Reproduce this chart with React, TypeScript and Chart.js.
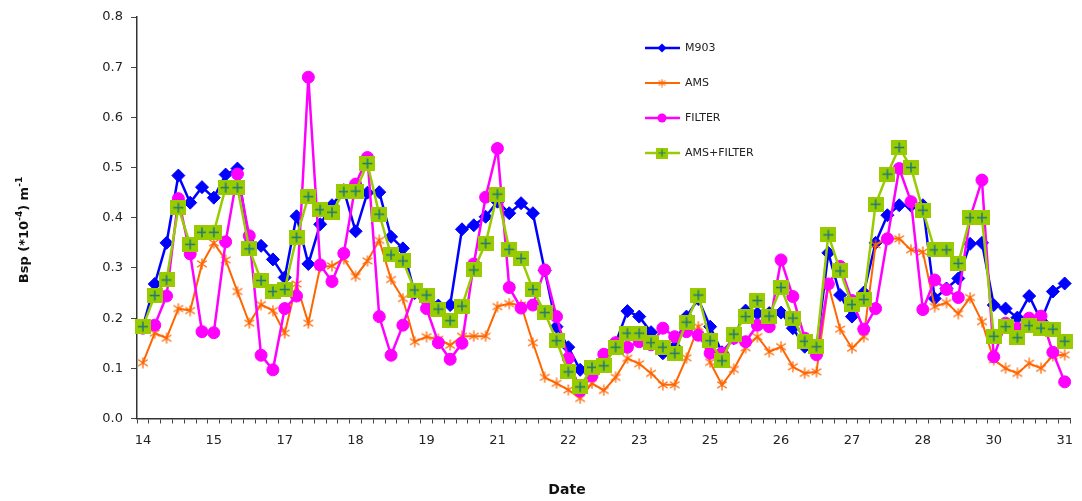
import React, { useEffect, useRef } from 'react';
import { Chart, registerables } from 'chart.js';

Chart.register(...registerables);

// Tick labels shown every 6 categories (data every 4 h)
const dayLabels = ['14', '15', '17', '18', '19', '21', '22', '23', '25', '26', '27', '28', '30', '31'];
const pointsPerLabel = 6;

const m903 = [
  0.183, 0.268, 0.350, 0.484, 0.430, 0.461, 0.440, 0.486, 0.498, 0.350,
  0.344, 0.317, 0.281, 0.403, 0.308, 0.387, 0.425, 0.455, 0.373, 0.450,
  0.451, 0.362, 0.339, 0.250, 0.245, 0.225, 0.226, 0.377, 0.385, 0.402,
  0.432, 0.409, 0.429, 0.409, 0.295, 0.183, 0.142, 0.097, 0.100, 0.105,
  0.150, 0.214, 0.203, 0.172, 0.130, 0.143, 0.203, 0.238, 0.183, 0.132,
  0.160, 0.215, 0.209, 0.210, 0.211, 0.180, 0.143, 0.140, 0.330, 0.246,
  0.203, 0.251, 0.350, 0.405, 0.425, 0.424, 0.425, 0.239, 0.259, 0.279,
  0.348, 0.350, 0.226, 0.219, 0.201, 0.244, 0.195, 0.253, 0.269,
];

const ams = [
  0.111, 0.170, 0.160, 0.219, 0.215, 0.308, 0.350, 0.316, 0.253, 0.190,
  0.227, 0.215, 0.170, 0.268, 0.190, 0.302, 0.304, 0.318, 0.283, 0.314,
  0.355, 0.277, 0.239, 0.153, 0.163, 0.158, 0.146, 0.164, 0.164, 0.164,
  0.223, 0.229, 0.226, 0.151, 0.082, 0.070, 0.057, 0.040, 0.070, 0.056,
  0.082, 0.120, 0.109, 0.090, 0.067, 0.067, 0.121, 0.183, 0.112, 0.067,
  0.098, 0.141, 0.163, 0.133, 0.143, 0.103, 0.090, 0.093, 0.266, 0.178,
  0.140, 0.163, 0.346, 0.359, 0.358, 0.336, 0.332, 0.223, 0.231, 0.209,
  0.241, 0.193, 0.117, 0.100, 0.090, 0.110, 0.100, 0.125, 0.127,
];

const filter = [
  0.180, 0.186, 0.244, 0.438, 0.328, 0.173, 0.171, 0.352, 0.487, 0.364,
  0.126, 0.097, 0.219, 0.244, 0.680, 0.306, 0.273, 0.329, 0.467, 0.520,
  0.203, 0.126, 0.186, 0.253, 0.219, 0.151, 0.118, 0.150, 0.308, 0.441,
  0.538, 0.261, 0.220, 0.226, 0.296, 0.203, 0.120, 0.055, 0.085, 0.128,
  0.151, 0.142, 0.153, 0.147, 0.180, 0.163, 0.173, 0.166, 0.130, 0.130,
  0.160, 0.153, 0.186, 0.183, 0.316, 0.243, 0.160, 0.127, 0.268, 0.303,
  0.235, 0.178, 0.219, 0.358, 0.498, 0.432, 0.217, 0.276, 0.257, 0.241,
  0.400, 0.475, 0.123, 0.190, 0.180, 0.200, 0.204, 0.132, 0.073,
];

const amsFilter = [
  0.183, 0.245, 0.276, 0.420, 0.347, 0.371, 0.371, 0.460, 0.460, 0.338,
  0.275, 0.253, 0.257, 0.361, 0.442, 0.416, 0.411, 0.452, 0.453, 0.508,
  0.407, 0.326, 0.314, 0.256, 0.246, 0.218, 0.195, 0.224, 0.296, 0.349,
  0.447, 0.337, 0.319, 0.257, 0.211, 0.155, 0.093, 0.063, 0.102, 0.105,
  0.142, 0.170, 0.170, 0.151, 0.142, 0.130, 0.192, 0.246, 0.155, 0.115,
  0.168, 0.203, 0.235, 0.204, 0.261, 0.200, 0.154, 0.143, 0.366, 0.294,
  0.227, 0.237, 0.427, 0.487, 0.540, 0.500, 0.415, 0.336, 0.336, 0.309,
  0.400, 0.400, 0.164, 0.183, 0.161, 0.185, 0.180, 0.178, 0.154,
];

const categories = m903.map((_, i) => (i % pointsPerLabel === 0 ? dayLabels[i / pointsPerLabel] : ''));

const BLUE = '#0000FF';
const ORANGE = '#FF6600';
const MAGENTA = '#FF00FF';
const GREEN = '#99CC00';
const TEAL = '#207878';

function makePlusSquare(w: number, h: number, plus: number, lw: number) {
  const c = document.createElement('canvas');
  c.width = w;
  c.height = h;
  const g = c.getContext('2d')!;
  g.fillStyle = GREEN;
  g.fillRect(0, 0, w, h);
  g.strokeStyle = TEAL;
  g.lineWidth = lw;
  g.beginPath();
  g.moveTo(w / 2, (h - plus) / 2);
  g.lineTo(w / 2, (h + plus) / 2);
  g.moveTo((w - plus) / 2, h / 2);
  g.lineTo((w + plus) / 2, h / 2);
  g.stroke();
  return c;
}

function makeAsterisk(size: number, color: string, lw: number) {
  const c = document.createElement('canvas');
  c.width = size;
  c.height = size;
  const g = c.getContext('2d')!;
  g.strokeStyle = color;
  g.lineWidth = lw;
  const m = size / 2;
  const r = size / 2 - 0.5;
  g.beginPath();
  g.moveTo(m, m - r);
  g.lineTo(m, m + r);
  const d = r * 0.87;
  g.moveTo(m - d, m - r * 0.6);
  g.lineTo(m + d, m + r * 0.6);
  g.moveTo(m - d, m + r * 0.6);
  g.lineTo(m + d, m - r * 0.6);
  g.stroke();
  return c;
}

export default function App() {
  const ref = useRef<HTMLCanvasElement>(null);

  useEffect(() => {
    const canvas = ref.current!;
    const plusBig = makePlusSquare(16, 15, 10, 1.5);
    const plusSmall = makePlusSquare(12, 11, 7, 1.2);
    const asterBig = makeAsterisk(12, ORANGE, 1.3);
    const asterSmall = makeAsterisk(9, ORANGE, 1.1);

    const legendMarkers: any[] = [
      { type: 'diamond', r: 4.5, color: BLUE },
      { type: 'image', img: asterSmall },
      { type: 'circle', r: 4.5, color: MAGENTA },
      { type: 'image', img: plusSmall },
    ];

    const overlay = {
      id: 'overlay',
      afterDraw(chart: any) {
        const ctx = chart.ctx as CanvasRenderingContext2D;
        // Legend
        chart.data.datasets.forEach((ds: any, i: number) => {
          const y = 48 + i * 35;
          ctx.save();
          ctx.strokeStyle = ds.borderColor;
          ctx.lineWidth = ds.borderWidth;
          ctx.beginPath();
          ctx.moveTo(645, y);
          ctx.lineTo(680, y);
          ctx.stroke();
          const mk = legendMarkers[i];
          const mx = 662;
          if (mk.type === 'image') {
            ctx.drawImage(mk.img, mx - mk.img.width / 2, y - mk.img.height / 2);
          } else if (mk.type === 'diamond') {
            ctx.fillStyle = mk.color;
            ctx.beginPath();
            ctx.moveTo(mx, y - mk.r);
            ctx.lineTo(mx + mk.r, y);
            ctx.lineTo(mx, y + mk.r);
            ctx.lineTo(mx - mk.r, y);
            ctx.closePath();
            ctx.fill();
          } else {
            ctx.fillStyle = mk.color;
            ctx.beginPath();
            ctx.arc(mx, y, mk.r, 0, Math.PI * 2);
            ctx.fill();
          }
          ctx.fillStyle = '#222';
          ctx.font = '11px "DejaVu Sans"';
          ctx.textAlign = 'left';
          ctx.textBaseline = 'middle';
          ctx.fillText(ds.label, 685, y + 0.5);
          ctx.restore();
        });

        // X axis title
        ctx.save();
        ctx.fillStyle = '#111';
        ctx.font = 'bold 14px "DejaVu Sans"';
        ctx.textAlign = 'center';
        ctx.textBaseline = 'middle';
        ctx.fillText('Date', 567, 490);
        ctx.restore();

        // Y axis title with superscripts
        ctx.save();
        ctx.translate(25, 230);
        ctx.rotate(-Math.PI / 2);
        const parts = [
          { t: 'Bsp (*10', sup: false },
          { t: '-4', sup: true },
          { t: ') m', sup: false },
          { t: '-1', sup: true },
        ];
        const fontN = 'bold 13px "DejaVu Sans"';
        const fontS = 'bold 9px "DejaVu Sans"';
        let total = 0;
        const widths = parts.map((p) => {
          ctx.font = p.sup ? fontS : fontN;
          const w = ctx.measureText(p.t).width;
          total += w;
          return w;
        });
        let x = -total / 2;
        ctx.fillStyle = '#111';
        ctx.textBaseline = 'middle';
        ctx.textAlign = 'left';
        parts.forEach((p, i) => {
          ctx.font = p.sup ? fontS : fontN;
          ctx.fillText(p.t, x, p.sup ? -5 : 0);
          x += widths[i];
        });
        ctx.restore();
      },
    };

    const tickFont = { family: 'DejaVu Sans', size: 13 };

    const chart = new Chart(canvas, {
      type: 'line',
      data: {
        labels: categories,
        datasets: [
          {
            label: 'M903',
            data: m903,
            borderColor: BLUE,
            backgroundColor: BLUE,
            borderWidth: 2.5,
            pointStyle: 'rectRot',
            pointRadius: 6.5,
            pointBorderWidth: 1,
            pointBackgroundColor: BLUE,
            pointBorderColor: BLUE,
            tension: 0,
            order: 4,
          },
          {
            label: 'AMS',
            data: ams,
            borderColor: ORANGE,
            backgroundColor: ORANGE,
            borderWidth: 2,
            pointStyle: asterBig as any,
            pointRadius: 6,
            tension: 0,
            order: 3,
          },
          {
            label: 'FILTER',
            data: filter,
            borderColor: MAGENTA,
            backgroundColor: MAGENTA,
            borderWidth: 2.5,
            pointStyle: 'circle',
            pointRadius: 6,
            pointBorderWidth: 1,
            pointBackgroundColor: MAGENTA,
            pointBorderColor: MAGENTA,
            tension: 0,
            order: 2,
          },
          {
            label: 'AMS+FILTER',
            data: amsFilter,
            borderColor: GREEN,
            backgroundColor: GREEN,
            borderWidth: 2.5,
            pointStyle: plusBig as any,
            pointRadius: 8,
            tension: 0,
            order: 1,
          },
        ],
      },
      options: {
        responsive: false,
        animation: false,
        devicePixelRatio: 1,
        layout: { padding: { top: 17, right: 9, bottom: 0, left: 0 } },
        plugins: {
          legend: { display: false },
          tooltip: { enabled: false },
          title: { display: false },
        },
        scales: {
          x: {
            type: 'category',
            offset: true,
            grid: {
              offset: true,
              drawOnChartArea: false,
              drawTicks: true,
              tickLength: 5,
              tickColor: '#444',
              tickWidth: 1,
            },
            border: { display: true, color: '#333', width: 1.5 },
            ticks: {
              autoSkip: false,
              maxRotation: 0,
              minRotation: 0,
              padding: 9,
              color: '#222',
              font: tickFont,
            },
            afterFit: (s: any) => {
              s.height = 82.5;
            },
          },
          y: {
            min: 0,
            max: 0.8,
            grid: {
              drawOnChartArea: false,
              drawTicks: true,
              tickLength: 6,
              tickColor: '#444',
              tickWidth: 1,
            },
            border: { display: true, color: '#333', width: 1.5 },
            ticks: {
              stepSize: 0.1,
              padding: 8,
              color: '#222',
              font: tickFont,
              callback: (v: any) => Number(v).toFixed(1),
            },
            afterFit: (s: any) => {
              s.width = 137;
            },
          },
        },
      },
      plugins: [overlay],
    } as any);

    return () => chart.destroy();
  }, []);

  return (
    <div style={{ position: 'absolute', left: 0, top: 0, width: 1082, height: 501, background: '#fff' }}>
      <canvas ref={ref} width={1082} height={501} style={{ display: 'block', width: 1082, height: 501 }} />
    </div>
  );
}
